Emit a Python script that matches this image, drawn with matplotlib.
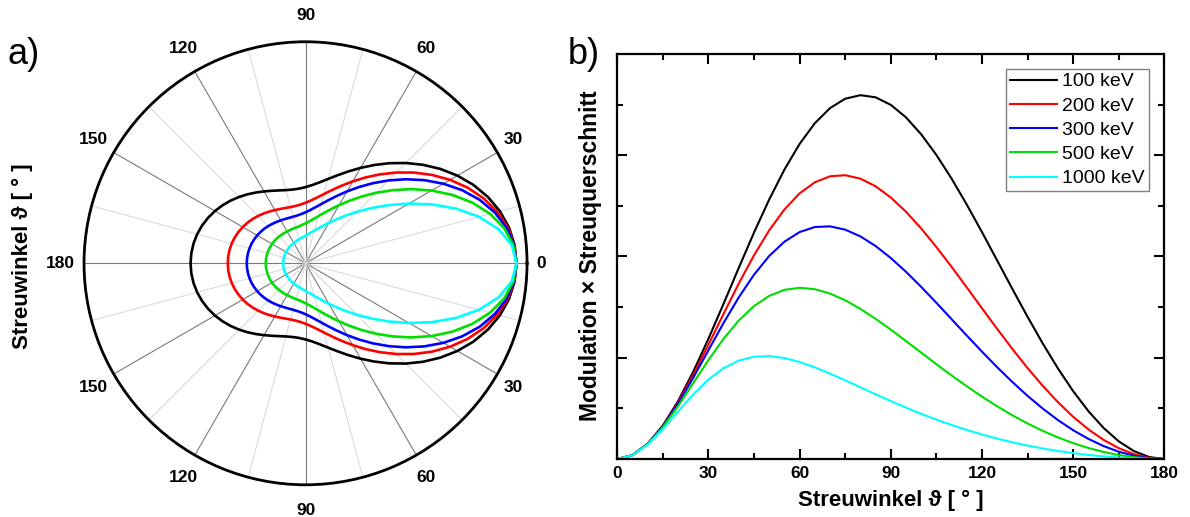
import numpy as np
import matplotlib
matplotlib.use("Agg")
import matplotlib.pyplot as plt

plt.rcParams["font.family"] = ["Liberation Sans", "DejaVu Sans"]

# scattering angle in degrees
angles = list(range(0, 181, 5))
energies = ["100 keV", "200 keV", "300 keV", "500 keV", "1000 keV"]
colors = ["#000000", "#ff0000", "#0000ff", "#00dd00", "#00ffff"]

# a) cross section (polar, normalised to 1 at 0 deg)
sigma_100 = [1.0, .9947, .9791, .9538, .9197, .8784, .8312, .7799, .7264, .6723, .6193, .5688, .5222,
             .4804, .4441, .4139, .3900, .3724, .3609, .3552, .3548, .3591, .3675, .3791, .3934, .4096,
             .4270, .4449, .4627, .4798, .4957, .5099, .5221, .5319, .5391, .5435, .5450]
sigma_200 = [1.0, .9932, .9733, .9413, .8988, .8480, .7912, .7307, .6691, .6084, .5505, .4968, .4484,
             .4059, .3698, .3401, .3166, .2990, .2867, .2792, .2758, .2759, .2789, .2842, .2912, .2994,
             .3084, .3176, .3268, .3356, .3437, .3510, .3572, .3621, .3657, .3680, .3687]
sigma_300 = [1.0, .9918, .9676, .9292, .8788, .8195, .7545, .6870, .6198, .5552, .4953, .4411, .3934,
             .3526, .3186, .2911, .2695, .2532, .2416, .2340, .2298, .2283, .2290, .2314, .2350, .2395,
             .2444, .2497, .2549, .2598, .2645, .2686, .2721, .2749, .2770, .2782, .2786]
sigma_500 = [1.0, .9888, .9564, .9057, .8410, .7674, .6899, .6128, .5395, .4724, .4128, .3614, .3180,
             .2823, .2533, .2305, .2127, .1993, .1895, .1827, .1781, .1754, .1740, .1738, .1743, .1754,
             .1768, .1784, .1801, .1818, .1834, .1849, .1861, .1871, .1878, .1883, .1884]
sigma_1000 = [1.0, .9815, .9293, .8513, .7582, .6605, .5663, .4810, .4071, .3452, .2946, .2539, .2215,
              .1960, .1760, .1603, .1481, .1386, .1312, .1255, .1210, .1175, .1148, .1127, .1110, .1098,
              .1088, .1080, .1075, .1070, .1067, .1064, .1062, .1061, .1060, .1060, .1060]

# b) modulation x cross section
mod_100 = [0, .0076, .0300, .0661, .1143, .1722, .2374, .3069, .3778, .4473, .5126, .5716, .6223,
           .6631, .6930, .7116, .7186, .7144, .6995, .6748, .6414, .6006, .5539, .5026, .4482, .3922,
           .3360, .2809, .2282, .1789, .1341, .0947, .0615, .0349, .0156, .0039, 0]
mod_200 = [0, .0076, .0298, .0652, .1117, .1662, .2257, .2869, .3468, .4024, .4517, .4928, .5246,
           .5465, .5584, .5606, .5537, .5387, .5165, .4884, .4554, .4187, .3796, .3389, .2978, .2570,
           .2174, .1797, .1445, .1123, .0835, .0586, .0378, .0214, .0096, .0024, 0]
mod_300 = [0, .0076, .0296, .0644, .1091, .1605, .2149, .2689, .3194, .3640, .4010, .4292, .4482,
           .4582, .4595, .4530, .4397, .4207, .3970, .3698, .3400, .3085, .2762, .2439, .2121, .1813,
           .1521, .1247, .0996, .0769, .0569, .0398, .0256, .0144, .0064, .0016, 0]
mod_500 = [0, .0075, .0293, .0627, .1043, .1499, .1954, .2375, .2736, .3021, .3222, .3341, .3382,
           .3354, .3268, .3135, .2965, .2769, .2555, .2330, .2101, .1873, .1650, .1436, .1232, .1040,
           .0863, .0701, .0555, .0426, .0313, .0218, .0139, .0078, .0035, .0009, 0]
mod_1000 = [0, .0075, .0284, .0589, .0936, .1276, .1569, .1795, .1944, .2020, .2033, .1994, .1916,
            .1811, .1687, .1554, .1416, .1278, .1144, .1015, .0892, .0778, .0672, .0574, .0484, .0403,
            .0330, .0265, .0208, .0158, .0116, .0080, .0051, .0029, .0013, .0003, 0]

sigmas = [sigma_100, sigma_200, sigma_300, sigma_500, sigma_1000]
mods = [mod_100, mod_200, mod_300, mod_500, mod_1000]

fig = plt.figure(figsize=(11.9, 5.17), dpi=100)

# ---- a) polar plot ----
ax = fig.add_axes([0.0706, 0.0623, 0.3723, 0.8569], projection="polar")
th = np.array(angles, dtype=float)
th_full = np.deg2rad(np.concatenate([th, 360 - th[::-1][1:]]))
for s, c in zip(sigmas, colors):
    s = np.array(s)
    ax.plot(th_full, np.concatenate([s, s[::-1][1:]]), color=c, lw=1.9)

rmax = 1.05
ax.set_ylim(0, rmax)
ax.set_yticks([])
ax.set_xticks(np.deg2rad(np.arange(0, 360, 30)))
ax.set_xticks(np.deg2rad(np.arange(15, 360, 30)), minor=True)
ax.set_xticklabels([])
ax.xaxis.grid(True, which="major", color="#7a7a7a", lw=0.8)
ax.xaxis.grid(True, which="minor", color="#d6d6d6", lw=0.7)
ax.tick_params(axis="x", which="major", direction="in", length=8, width=1.6)
ax.tick_params(axis="x", which="minor", direction="in", length=5, width=1.2)
ax.spines["polar"].set_linewidth(2.0)

for a in range(0, 360, 30):
    lbl = str(a if a <= 180 else 360 - a)
    phi = np.deg2rad(a)
    dx = np.cos(phi) * (9 + 4.8 * len(lbl))
    dy = np.sin(phi) * 26
    ax.annotate(lbl, xy=(phi, rmax), xytext=(dx, dy), textcoords="offset pixels",
                ha="center", va="center", fontsize=12.5, fontweight="bold",
                annotation_clip=False)

fig.text(22.5 / 1190, 1 - 256 / 517, "Streuwinkel ϑ [ ° ]", rotation=90,
         ha="center", va="center", fontsize=16, fontweight="bold")
fig.text(24 / 1190, 1 - 55 / 517, "a)", ha="center", va="center", fontsize=26)

# ---- b) modulation x cross section ----
ax2 = fig.add_axes([0.5187, 0.1122, 0.4597, 0.7834])
for m, c, lab in zip(mods, colors, energies):
    ax2.plot(angles, m, color=c, lw=1.5, label=lab)

ax2.set_xlim(0, 180)
ax2.set_ylim(0, 0.8)
ax2.set_xticks(np.arange(0, 181, 30))
ax2.set_xticks(np.arange(15, 180, 30), minor=True)
ax2.set_yticks([0.2, 0.4, 0.6])
ax2.set_yticks(np.arange(0.1, 0.8, 0.2), minor=True)
ax2.set_yticklabels([])
ax2.tick_params(which="both", direction="in", top=True, right=True, width=1.5)
ax2.tick_params(which="major", length=7, pad=5, labelsize=12.5)
ax2.tick_params(which="minor", length=4)
for lbl in ax2.get_xticklabels():
    lbl.set_fontweight("bold")
for sp in ax2.spines.values():
    sp.set_linewidth(1.6)

fig.text(891 / 1190, 1 - 500 / 517, "Streuwinkel ϑ [ ° ]", ha="center", va="center",
         fontsize=16, fontweight="bold")
fig.text(590 / 1190, 1 - 256 / 517, "Modulation × Streuquerschnitt", rotation=90,
         ha="center", va="center", fontsize=16.5, fontweight="bold")
fig.text(584 / 1190, 1 - 55 / 517, "b)", ha="center", va="center", fontsize=26)

leg = ax2.legend(loc="upper right", bbox_to_anchor=(0.972, 0.963), borderaxespad=0,
                 fontsize=14, handlelength=2.4, handletextpad=0.3, labelspacing=0.34,
                 borderpad=0.2, fancybox=False, framealpha=1)
leg.get_frame().set_edgecolor("#808080")
leg.get_frame().set_linewidth(1.0)

fig.savefig("out.png", dpi=100)
